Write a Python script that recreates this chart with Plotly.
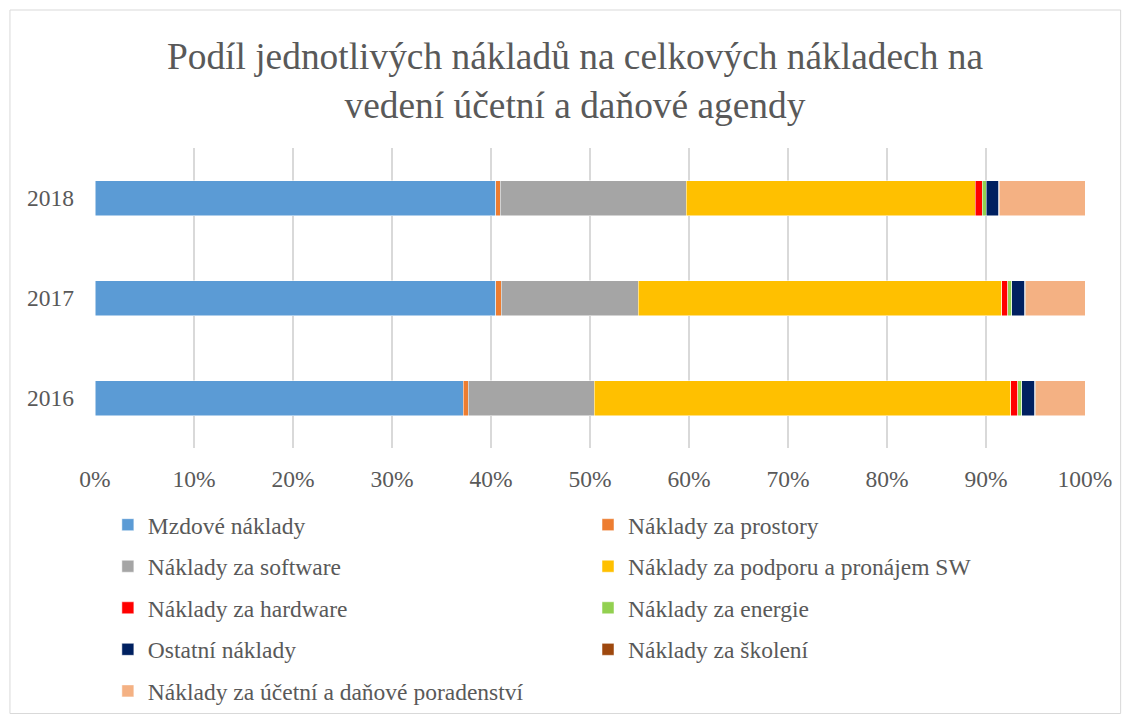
import plotly.graph_objects as go

years = ["2016", "2017", "2018"]
series_names = [
    "Mzdové náklady",
    "Náklady za prostory",
    "Náklady za software",
    "Náklady za podporu a pronájem SW",
    "Náklady za hardware",
    "Náklady za energie",
    "Ostatní náklady",
    "Náklady za školení",
    "Náklady za účetní a daňové poradenství",
]
# percentage shares per year (2016, 2017, 2018)
mzdove = [37.2, 40.5, 40.5]
prostory = [0.5, 0.55, 0.45]
software = [12.75, 13.8, 18.75]
podpora = [42.05, 36.75, 29.2]
hardware = [0.7, 0.6, 0.7]
energie = [0.4, 0.4, 0.4]
ostatni = [1.3, 1.3, 1.3]
skoleni = [0.1, 0.1, 0.05]
poradenstvi = [5.0, 6.0, 8.65]
tick_vals = [0, 0.1, 0.2, 0.3, 0.4, 0.5, 0.6, 0.7, 0.8, 0.9, 1.0]
tick_text = ["0%", "10%", "20%", "30%", "40%", "50%", "60%", "70%", "80%", "90%", "100%"]

values = [mzdove, prostory, software, podpora, hardware, energie, ostatni, skoleni, poradenstvi]
colors = ["#5B9BD5", "#ED7D31", "#A5A5A5", "#FFC000", "#FF0000", "#92D050", "#002060", "#9E480E", "#F4B183"]
legend_of = ["legend", "legend2", "legend", "legend2", "legend", "legend2", "legend", "legend2", "legend"]

FONT = "Liberation Serif, Times New Roman, serif"

fig = go.Figure()
for name, vals, col, lg in zip(series_names, values, colors, legend_of):
    fig.add_trace(go.Bar(
        y=years,
        x=[v / 100 for v in vals],
        name=name,
        orientation="h",
        marker=dict(color=col, line=dict(color="white", width=0.5)),
        legend=lg,
        legendgroup=name,
    ))

legend_common = dict(
    orientation="v",
    font=dict(family=FONT, size=23.5, color="#595959"),
    bgcolor="rgba(0,0,0,0)",
    tracegroupgap=8,
    yanchor="top",
    xanchor="left",
    itemclick=False,
    traceorder="grouped",
)

fig.update_layout(
    width=1131,
    height=722,
    barmode="stack",
    bargap=0.65,
    paper_bgcolor="white",
    plot_bgcolor="white",
    margin=dict(l=87, r=54, t=140, b=282),
    title=dict(
        text="Podíl jednotlivých nákladů na celkových nákladech na<br>vedení účetní a daňové agendy",
        x=0.5013, xref="container", xanchor="center",
        y=0.915, yanchor="top",
        font=dict(family=FONT, size=37.4, color="#595959"),
    ),
    xaxis=dict(
        range=[0, 1],
        tickvals=tick_vals,
        ticktext=tick_text,
        showgrid=True,
        gridcolor="#D9D9D9",
        gridwidth=1.5,
        zeroline=False,
        showline=False,
        tickfont=dict(family=FONT, size=23.5, color="#595959"),
        ticks="",
        ticklabelstandoff=14,
        fixedrange=True,
    ),
    yaxis=dict(
        categoryorder="array",
        categoryarray=years,
        showgrid=False,
        zeroline=False,
        showline=False,
        tickfont=dict(family=FONT, size=23.5, color="#595959"),
        ticks="",
        ticklabelstandoff=20,
    ),
    showlegend=True,
    legend=dict(x=0.013, y=-0.183, **legend_common),
    legend2=dict(x=0.498, y=-0.183, **legend_common),
    shapes=[dict(
        type="rect", xref="paper", yref="paper",
        x0=-0.0859, x1=1.036, y0=-0.885, y1=1.46,
        line=dict(color="#D9D9D9", width=1), layer="below",
    )],
)

fig.write_html("out.html")
